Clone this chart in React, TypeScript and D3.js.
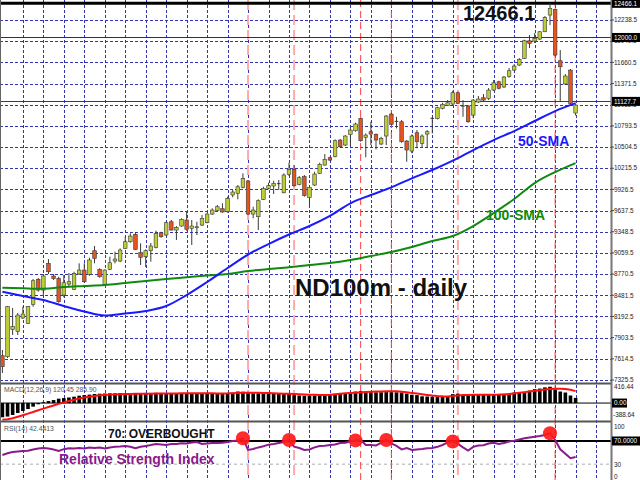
import React from 'react';
import * as d3 from 'd3';

// ---------- DATA ----------
const opens = [7657, 7643, 8017, 7985, 8171, 8099, 8358, 8700, 8553, 8918, 8745, 8713, 8485, 8635, 8563, 8772, 8826, 8768, 9090, 8836, 8622, 8836, 8949, 8949, 9122, 9212, 9313, 9063, 9008, 9090, 9136, 9335, 9304, 9485, 9372, 9427, 9509, 9395, 9403, 9440, 9472, 9590, 9636, 9663, 9622, 9850, 9873, 9955, 10041, 9590, 9554, 9791, 9941, 9973, 10005, 9881, 10132, 10200, 9996, 10100, 9818, 9986, 10146, 10259, 10359, 10373, 10600, 10532, 10678, 10727, 10896, 10637, 10714, 10678, 10546, 10655, 10955, 10855, 10850, 10587, 10450, 10700, 10555, 10682, 10896, 10896, 11033, 11074, 11091, 11246, 11064, 11064, 10941, 11119, 11177, 11165, 11282, 11396, 11324, 11465, 11555, 11624, 11715, 11955, 11951, 11978, 12078, 12306, 12383, 11682, 11365, 11555, 10969];
const highs = [7735, 8335, 8308, 8240, 8326, 8335, 8704, 8717, 8772, 8976, 8772, 8735, 8758, 8786, 8803, 8918, 8918, 8994, 9154, 8850, 8836, 9008, 9076, 9122, 9281, 9327, 9335, 9191, 9109, 9195, 9363, 9349, 9485, 9509, 9427, 9532, 9622, 9509, 9485, 9577, 9608, 9668, 9713, 9737, 9827, 9918, 9986, 10146, 10055, 9690, 9791, 9963, 10018, 10045, 10055, 10146, 10291, 10259, 10109, 10123, 9963, 10168, 10291, 10409, 10373, 10609, 10614, 10668, 10782, 10837, 10910, 10691, 10850, 10691, 10645, 10941, 10973, 10918, 10873, 10600, 10678, 10737, 10678, 10737, 10918, 11055, 11109, 11146, 11273, 11260, 11146, 11078, 11160, 11201, 11228, 11310, 11419, 11410, 11474, 11583, 11637, 11719, 11969, 12033, 12060, 12088, 12292, 12466.1, 12397, 11828, 11501, 11569, 11091];
const lows = [7421, 7626, 7940, 7940, 8158, 8090, 8326, 8530, 8472, 8772, 8690, 8380, 8454, 8599, 8553, 8758, 8653, 8749, 8918, 8721, 8608, 8826, 8918, 8935, 9113, 9199, 9099, 8895, 8867, 8940, 9122, 9267, 9290, 9363, 9236, 9417, 9363, 9168, 9304, 9427, 9463, 9577, 9622, 9608, 9608, 9818, 9791, 9941, 9577, 9532, 9372, 9782, 9927, 9864, 9918, 9873, 10109, 9963, 9982, 9827, 9713, 9973, 10136, 10250, 10313, 10364, 10495, 10518, 10518, 10714, 10577, 10364, 10532, 10473, 10532, 10532, 10805, 10759, 10563, 10304, 10419, 10487, 10495, 10495, 10691, 10882, 11019, 11064, 11078, 11091, 10918, 10837, 10900, 11105, 11133, 11146, 11269, 11292, 11310, 11451, 11542, 11610, 11706, 11856, 11924, 11965, 12074, 12169, 11746, 11119, 11351, 11091, 10935];
const closes = [7507, 8326, 8053, 8212, 8226, 8326, 8680, 8553, 8745, 8803, 8708, 8394, 8653, 8667, 8781, 8826, 8667, 8963, 8986, 8735, 8826, 8926, 8976, 9099, 9212, 9290, 9109, 9000, 9090, 9154, 9327, 9281, 9472, 9372, 9409, 9518, 9382, 9427, 9417, 9532, 9590, 9645, 9690, 9618, 9805, 9891, 9963, 10078, 9590, 9645, 9772, 9941, 9977, 10009, 10005, 10123, 10200, 9977, 10086, 9843, 9955, 10136, 10269, 10337, 10327, 10591, 10509, 10655, 10737, 10819, 10591, 10668, 10682, 10600, 10623, 10928, 10814, 10855, 10577, 10464, 10655, 10577, 10655, 10714, 10896, 11041, 11087, 11109, 11246, 11101, 11064, 10850, 11146, 11160, 11146, 11282, 11382, 11306, 11460, 11546, 11610, 11701, 11955, 11920, 11988, 12078, 12274, 12397, 11760, 11600, 11474, 11101, 11078];

const smaIdx = [0, 4, 8, 12, 16, 20, 24, 28, 32, 36, 40, 44, 48, 52, 56, 60, 64, 68, 72, 76, 80, 84, 88, 92, 96, 100, 104, 108, 112];
const sma50 = [8530, 8472, 8417, 8335, 8260, 8206, 8233, 8267, 8335, 8485, 8663, 8854, 9038, 9181, 9311, 9427, 9566, 9737, 9850, 9955, 10078, 10191, 10318, 10464, 10600, 10723, 10860, 10996, 11105];
const sma100 = [8585, 8577, 8571, 8594, 8608, 8622, 8649, 8676, 8704, 8727, 8751, 8772, 8813, 8840, 8863, 8895, 8922, 8963, 9017, 9072, 9140, 9222, 9290, 9427, 9604, 9795, 10013, 10163, 10286];

const macdMain = [-358, -340, -300, -250, -200, -150, -90, -30, 20, 50, 75, 110, 125, 140, 160, 185, 200, 212, 228, 235, 240, 245, 245, 250, 250, 252, 250, 252, 255, 255, 258, 255, 252, 252, 250, 252, 250, 248, 245, 235, 232, 230, 232, 235, 240, 262, 290, 285, 250, 245, 245, 248, 250, 250, 248, 248, 245, 200, 190, 185, 185, 188, 190, 195, 200, 225, 232, 235, 240, 290, 300, 295, 272, 270, 272, 275, 272, 270, 265, 240, 210, 200, 170, 165, 160, 162, 165, 170, 225, 235, 210, 200, 205, 207, 207, 210, 212, 225, 232, 240, 265, 272, 280, 315, 350, 365, 395, 410, 340, 290, 265, 190, 130];
const macdSignal = [-420, -405, -380, -345, -305, -265, -225, -180, -140, -100, -60, -20, 15, 50, 85, 115, 140, 160, 180, 195, 205, 212, 218, 222, 226, 229, 231, 233, 235, 237, 238, 240, 241, 242, 243, 244, 245, 245, 246, 246, 245, 244, 243, 243, 244, 248, 255, 260, 262, 262, 260, 255, 250, 245, 240, 236, 233, 228, 222, 216, 210, 207, 205, 205, 210, 220, 232, 245, 255, 262, 268, 275, 282, 288, 292, 295, 296, 294, 285, 270, 255, 240, 222, 205, 190, 178, 170, 168, 175, 190, 200, 205, 208, 210, 210, 211, 212, 213, 218, 228, 242, 258, 275, 292, 310, 325, 340, 352, 358, 360, 355, 335, 300];
const rsiValues = [46, 49, 51, 52, 53, 53.4, 55.5, 57, 58, 57, 55.5, 53, 56, 57.5, 57, 58, 57, 59, 58, 59, 57, 59, 60, 60.6, 61.5, 60, 57.5, 60, 61.5, 63, 65, 64, 63, 65, 65, 66, 65.8, 67.5, 68.3, 65, 65.8, 66.6, 66.6, 67.1, 68.3, 70, 71, 74.7, 54.6, 56.3, 59, 61, 63.7, 65, 66.6, 68.3, 71.8, 60.3, 58, 54.6, 55.5, 59, 61.5, 62, 63.2, 64, 66.6, 67.1, 69.2, 71, 71.8, 63.2, 63.2, 62.3, 66.6, 71.8, 65.8, 61.5, 55.5, 58, 54.6, 55.5, 56.3, 57.5, 58, 60, 63.2, 67.5, 69.2, 65, 59, 53.7, 60, 62.3, 62.7, 65.8, 67.1, 65, 66.6, 69.2, 70.6, 72.6, 74.7, 76, 77.4, 78.6, 80.3, 83.3, 71.8, 55.8, 48, 40.5, 42.44];

const priceTicks = [12238.5, 11949.5, 11660.5, 11371.5, 11082.5, 10793.5, 10504.5, 10215.5, 9926.5, 9637.5, 9348.5, 9059.5, 8770.5, 8481.5, 8192.5, 7903.5, 7614.5, 7325.5];
const priceMarkers = [12466.1, 12000.0, 11127.7];
const macdTicks = [416.44, 0, -388.64];
const rsiTicks = [100, 70, 30, 0];
const reversalIdx = [48, 57, 70, 76, 89, 108];
const reversalStyle = ['pink', 'pink', 'red', 'red', 'pink', 'red'];
const overboughtIdx = [47, 56, 69, 75, 88, 107];

const AXF = '"Liberation Sans", Arial, sans-serif';
const BOLD = 'Arial, "Liberation Sans", sans-serif';

export default function App() {
  const n = closes.length;
  const AX = 611;
  const x = d3.scaleLinear().domain([0, n - 1]).range([2.4, 575.6]);
  const yP = d3.scaleLinear().domain([7325.5, 12238.5]).range([380, 20]);
  const yM = d3.scaleLinear().domain([-388.64, 416.44]).range([418.5, 386.5]);
  const yR = d3.scaleLinear().domain([0, 100]).range([481.8, 423.5]);

  const gridIdx = d3.range(4, 117, 4);

  const smaLine = d3
    .line<number>()
    .x((_, i) => x(smaIdx[i]))
    .y((d) => yP(d))
    .curve(d3.curveMonotoneX);
  const sigLine = d3
    .line<number>()
    .x((_, i) => x(i))
    .y((d) => yM(d));
  const rsiLine = d3
    .line<number>()
    .x((_, i) => x(i))
    .y((d) => yR(d));

  const bull = '#bccd38';
  const bear = '#e6531d';
  const grid = '#3434b0';

  // label positions on the right scale (kept inside each panel)
  const macdLabelY = (t: number) => Math.max(387, Math.min(415, yM(t)));
  const rsiLabelY = (t: number) => Math.max(427, Math.min(477, yR(t)));

  return (
    <svg
      width={640}
      height={480}
      style={{ position: 'absolute', left: 0, top: 0, background: '#fff' }}
      fontFamily={AXF}
    >
      <rect x={0} y={0} width={640} height={480} fill="#fff" />
      {/* main horizontal grid */}
      {priceTicks.map((t) => (
        <line key={'hg' + t} x1={0} x2={AX} y1={Math.round(yP(t)) + 0.5} y2={Math.round(yP(t)) + 0.5} stroke={grid} strokeDasharray="3,2" strokeWidth={1} />
      ))}
      {/* vertical grid through all panels */}
      {gridIdx.map((g) => (
        <line key={'vg' + g} x1={Math.round(x(g)) + 0.5} x2={Math.round(x(g)) + 0.5} y1={0} y2={480} stroke={grid} strokeDasharray="3,2" strokeWidth={1} />
      ))}
      {/* RSI 30 level dotted */}
      <line x1={0} x2={AX} y1={yR(30)} y2={yR(30)} stroke="#c8c8c8" strokeDasharray="3,3" strokeWidth={1.5} />
      {/* reversal red dashed lines */}
      {reversalIdx.map((r, k) => (
        <line
          key={'rv' + r}
          x1={x(r)}
          x2={x(r)}
          y1={0}
          y2={480}
          stroke={reversalStyle[k] === 'pink' ? '#ffaaaa' : '#ff4040'}
          strokeWidth={reversalStyle[k] === 'pink' ? 2 : 1}
          strokeDasharray={reversalStyle[k] === 'pink' ? '10,5' : '7,4'}
        />
      ))}
      {/* price marker lines */}
      <line x1={0} x2={AX} y1={yP(priceMarkers[0])} y2={yP(priceMarkers[0])} stroke="#000" strokeWidth={3} />
      <line x1={0} x2={AX} y1={Math.round(yP(priceMarkers[1])) + 0.5} y2={Math.round(yP(priceMarkers[1])) + 0.5} stroke="#333" strokeWidth={1} />
      <line x1={0} x2={AX} y1={Math.round(yP(priceMarkers[2])) + 0.5} y2={Math.round(yP(priceMarkers[2])) + 0.5} stroke="#2a2ad0" strokeWidth={1} />

      {/* candles */}
      {closes.map((c, i) => {
        const o = opens[i];
        const cx = x(i);
        const top = yP(Math.max(o, c));
        const bot = yP(Math.min(o, c));
        const up = c > o;
        const doji = c === o;
        return (
          <g key={'c' + i}>
            <line x1={cx} x2={cx} y1={yP(highs[i])} y2={yP(lows[i])} stroke="#3a3a3a" strokeWidth={1} />
            {doji ? (
              <line x1={cx - 1.8} x2={cx + 1.8} y1={top} y2={top} stroke="#333" strokeWidth={1} />
            ) : (
              <rect x={cx - 1.8} y={top} width={3.6} height={Math.max(1, bot - top)} fill={up ? bull : bear} stroke="#3a3a3a" strokeWidth={0.6} />
            )}
          </g>
        );
      })}

      {/* moving averages */}
      <path d={smaLine(sma100) || ''} fill="none" stroke="#0f8a0f" strokeWidth={2} />
      <path d={smaLine(sma50) || ''} fill="none" stroke="#1a1aff" strokeWidth={2} />

      {/* annotations */}
      <text x={463} y={20} fontFamily={BOLD} fontWeight="bold" fontSize={20} fill="#111">12466.1</text>
      <text x={295} y={296} fontFamily={BOLD} fontWeight="bold" fontSize={24} fill="#111">ND100m - daily</text>
      <text x={518} y={146} fontFamily={BOLD} fontWeight="bold" fontSize={14} fill="#1a1aff">50-SMA</text>
      <text x={486} y={220} fontFamily={BOLD} fontWeight="bold" fontSize={14} fill="#0f8a0f">100-SMA</text>

      {/* MACD panel */}
      {macdMain.map((m, i) => (
        <rect key={'m' + i} x={x(i) - 1.8} y={Math.min(yM(m), yM(0))} width={3.6} height={Math.abs(yM(m) - yM(0))} fill="#000" />
      ))}
      <line x1={0} x2={AX} y1={yM(0)} y2={yM(0)} stroke="#000" strokeWidth={1} />
      <path d={sigLine(macdSignal) || ''} fill="none" stroke="#ff1010" strokeWidth={2} />
      <text x={4} y={392} fontSize={6.8} fill="#555">MACD(12,26,9) 120.45 285.90</text>

      {/* RSI panel */}
      <line x1={0} x2={AX} y1={yR(70)} y2={yR(70)} stroke="#000" strokeWidth={2} />
      <path d={rsiLine(rsiValues) || ''} fill="none" stroke="#8b1a8b" strokeWidth={2} />
      {overboughtIdx.map((o) => (
        <circle key={'ob' + o} cx={x(o)} cy={yR(rsiValues[o])} r={7} fill="#ff1a1a" opacity={0.92} />
      ))}
      <text x={4} y={431} fontSize={6.8} fill="#555">RSI(14) 42.4413</text>
      <text x={108} y={438} fontFamily={BOLD} fontWeight="bold" fontSize={12} fill="#111">70: OVERBOUGHT</text>
      <text x={59} y={464} fontFamily={BOLD} fontWeight="bold" fontSize={14} fill="#8b1a8b">Relative Strength Index</text>

      {/* panel separators and borders */}
      <line x1={0} x2={AX} y1={383.5} y2={383.5} stroke="#555" strokeWidth={2} />
      <line x1={0} x2={AX} y1={421.5} y2={421.5} stroke="#555" strokeWidth={2} />
      <line x1={0.5} x2={0.5} y1={0} y2={480} stroke="#666" strokeWidth={1} />
      <line x1={AX + 0.5} x2={AX + 0.5} y1={0} y2={480} stroke="#777" strokeWidth={2} />

      {/* right axis labels: price */}
      {priceTicks.map((t) => (
        <g key={'pt' + t}>
          <line x1={AX} x2={AX + 3} y1={yP(t)} y2={yP(t)} stroke="#444" />
          <text x={614} y={yP(t)} dy="0.35em" fontSize={6.4} fill="#222">{t.toFixed(1)}</text>
        </g>
      ))}
      {priceMarkers.map((t) => (
        <g key={'pm' + t}>
          <rect x={AX + 1} y={yP(t) - 4.5} width={28} height={9} fill="#000" />
          <text x={614} y={yP(t)} dy="0.35em" fontSize={6.4} fill="#fff">{t.toFixed(1)}</text>
        </g>
      ))}
      {/* MACD labels */}
      {macdTicks.map((t) => (
        <g key={'mt' + t}>
          {t === 0 ? <rect x={AX + 1} y={yM(t) - 4.5} width={15} height={9} fill="#000" /> : null}
          <text x={t < 0 ? 613 : 614} y={t === 0 ? yM(t) : macdLabelY(t)} dy="0.35em" fontSize={6.4} fill={t === 0 ? '#fff' : '#222'}>{t.toFixed(2)}</text>
        </g>
      ))}
      {/* RSI labels */}
      {rsiTicks.map((t) => (
        <g key={'rt' + t}>
          {t === 70 ? <rect x={AX + 1} y={yR(t) - 4.5} width={28} height={9} fill="#000" /> : null}
          <text x={614} y={t === 70 ? yR(t) : rsiLabelY(t)} dy="0.35em" fontSize={6.4} fill={t === 70 ? '#fff' : '#222'}>{t === 70 ? t.toFixed(4) : String(t)}</text>
        </g>
      ))}
    </svg>
  );
}
